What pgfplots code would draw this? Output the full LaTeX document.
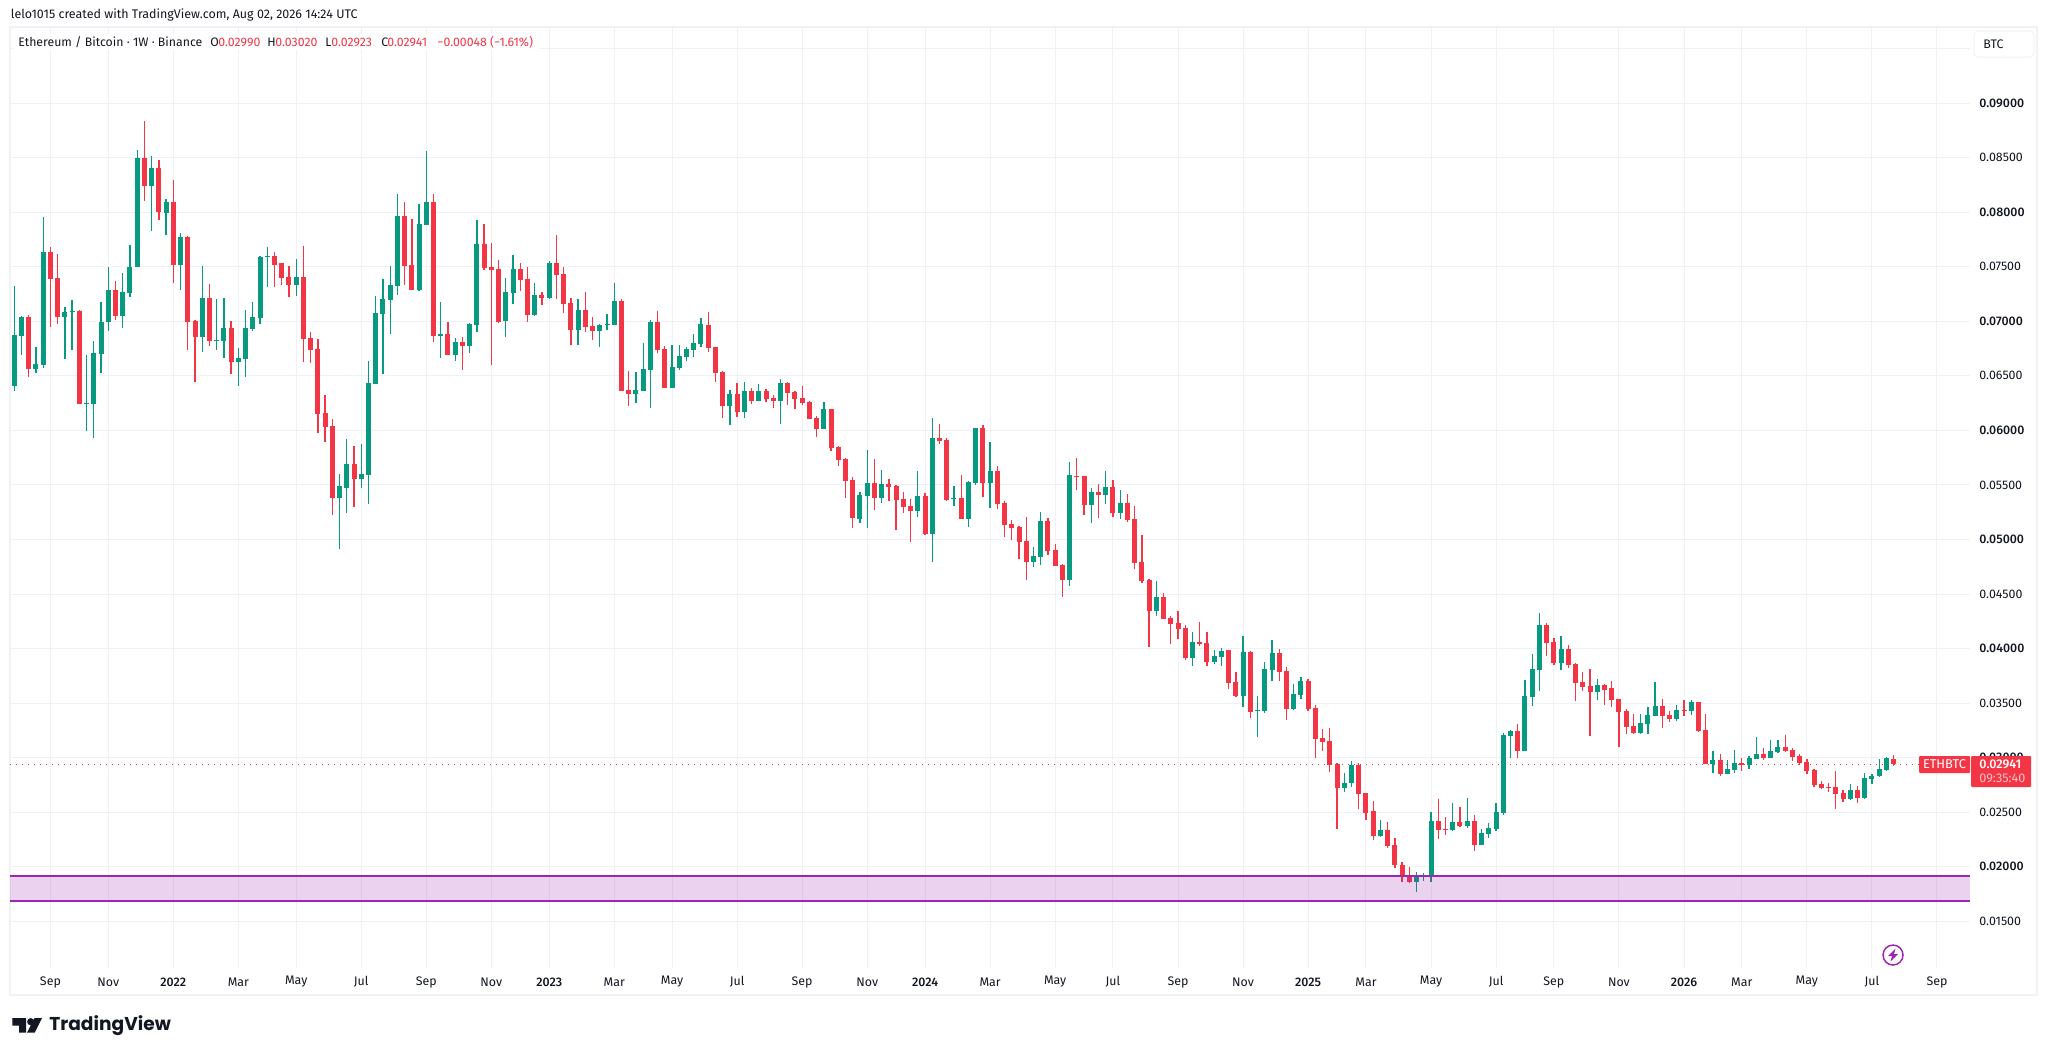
\documentclass[border=0pt]{standalone}
\usepackage{fontspec}
\usepackage{pgfplots}
\usepackage{pgfplotstable}
\pgfplotsset{compat=1.18}
\setmainfont[BoldFont={Fira Sans Medium}]{Fira Sans}
\newfontfamily\logofont{Poppins}
\definecolor{tvgreen}{HTML}{089981}
\definecolor{tvred}{HTML}{F23645}
\definecolor{tvpurple}{HTML}{9C27B0}
\definecolor{tvgrid}{HTML}{F0F1F4}
\definecolor{tvframe}{HTML}{F0F2F6}
\definecolor{tvtext}{HTML}{131722}
\pgfplotstableread{
x o h l c
0 0.06405 0.07327 0.06359 0.06874
1 0.06864 0.07048 0.06690 0.07038
2 0.07038 0.07058 0.06487 0.06562
3 0.06562 0.06762 0.06526 0.06608
4 0.06598 0.07957 0.06572 0.07635
5 0.07635 0.07681 0.06946 0.07389
6 0.07399 0.07619 0.06976 0.07038
7 0.07038 0.07130 0.06654 0.07081
8 0.07084 0.07196 0.06736 0.07094
9 0.07094 0.07104 0.06241 0.06241
10 0.06241 0.06690 0.05991 0.06251
11 0.06241 0.06818 0.05929 0.06710
12 0.06700 0.07176 0.06526 0.06992
13 0.06989 0.07497 0.06910 0.07287
14 0.07287 0.07369 0.07015 0.07048
15 0.07048 0.07442 0.06940 0.07268
16 0.07261 0.07701 0.07222 0.07497
17 0.07494 0.08574 0.07494 0.08501
18 0.08501 0.08839 0.08104 0.08242
19 0.08242 0.08518 0.07829 0.08409
20 0.08409 0.08482 0.07930 0.07999
21 0.07996 0.08121 0.07793 0.08094
22 0.08094 0.08298 0.07353 0.07517
23 0.07517 0.07812 0.07287 0.07773
24 0.07773 0.07780 0.06736 0.06992
25 0.07002 0.07012 0.06441 0.06854
26 0.06854 0.07507 0.06716 0.07215
27 0.07215 0.07343 0.06776 0.06818
28 0.06818 0.07205 0.06736 0.06828
29 0.06818 0.07215 0.06664 0.06940
30 0.06940 0.07002 0.06516 0.06625
31 0.06625 0.06756 0.06405 0.06661
32 0.06654 0.07104 0.06487 0.06940
33 0.06930 0.07176 0.06910 0.07038
34 0.07031 0.07599 0.06976 0.07589
35 0.07589 0.07681 0.07314 0.07599
36 0.07599 0.07635 0.07314 0.07517
37 0.07537 0.07537 0.07333 0.07399
38 0.07405 0.07507 0.07222 0.07333
39 0.07333 0.07573 0.07232 0.07405
40 0.07405 0.07691 0.06625 0.06838
41 0.06848 0.06900 0.06618 0.06736
42 0.06746 0.06835 0.05975 0.06149
43 0.06159 0.06323 0.05890 0.06027
44 0.06037 0.06103 0.05227 0.05384
45 0.05384 0.05598 0.04912 0.05486
46 0.05476 0.05919 0.05247 0.05690
47 0.05690 0.05854 0.05302 0.05552
48 0.05552 0.05873 0.05476 0.05598
49 0.05588 0.06634 0.05322 0.06434
50 0.06424 0.07232 0.06424 0.07077
51 0.07068 0.07389 0.06516 0.07205
52 0.07196 0.07507 0.06884 0.07333
53 0.07323 0.08167 0.07241 0.07967
54 0.07967 0.08094 0.07333 0.07507
55 0.07517 0.07940 0.07287 0.07287
56 0.07287 0.08078 0.07278 0.07894
57 0.07885 0.08564 0.07885 0.08094
58 0.08094 0.08167 0.06808 0.06864
59 0.06864 0.07176 0.06664 0.06884
60 0.06884 0.06992 0.06690 0.06690
61 0.06690 0.06848 0.06634 0.06808
62 0.06808 0.06854 0.06552 0.06772
63 0.06772 0.06985 0.06710 0.06976
64 0.06966 0.07930 0.06900 0.07711
65 0.07711 0.07894 0.07471 0.07491
66 0.07497 0.07720 0.06598 0.07471
67 0.07481 0.07563 0.06985 0.06992
68 0.07002 0.07399 0.06854 0.07268
69 0.07261 0.07609 0.07159 0.07481
70 0.07481 0.07537 0.07278 0.07379
71 0.07389 0.07497 0.06992 0.07058
72 0.07058 0.07353 0.07048 0.07241
73 0.07241 0.07268 0.07150 0.07215
74 0.07215 0.07553 0.07205 0.07537
75 0.07536 0.07792 0.07206 0.07426
76 0.07435 0.07499 0.07078 0.07160
77 0.07169 0.07215 0.06785 0.06922
78 0.06922 0.07206 0.06785 0.07105
79 0.07105 0.07270 0.06904 0.06949
80 0.06959 0.07041 0.06830 0.06913
81 0.06913 0.06977 0.06766 0.06968
82 0.06968 0.07069 0.06922 0.06977
83 0.06968 0.07353 0.06968 0.07188
84 0.07188 0.07206 0.06363 0.06363
85 0.06372 0.06546 0.06226 0.06336
86 0.06336 0.06537 0.06253 0.06372
87 0.06363 0.06803 0.06363 0.06565
88 0.06555 0.07014 0.06207 0.06995
89 0.06995 0.07096 0.06711 0.06739
90 0.06748 0.06775 0.06390 0.06390
91 0.06390 0.06785 0.06390 0.06583
92 0.06574 0.06785 0.06555 0.06684
93 0.06675 0.06766 0.06638 0.06748
94 0.06739 0.06885 0.06675 0.06803
95 0.06794 0.07032 0.06766 0.06977
96 0.06968 0.07087 0.06720 0.06757
97 0.06766 0.06766 0.06445 0.06528
98 0.06537 0.06546 0.06116 0.06226
99 0.06226 0.06372 0.06052 0.06336
100 0.06336 0.06436 0.06125 0.06171
101 0.06171 0.06445 0.06116 0.06363
102 0.06363 0.06390 0.06244 0.06271
103 0.06271 0.06427 0.06271 0.06363
104 0.06363 0.06381 0.06262 0.06290
105 0.06299 0.06326 0.06207 0.06271
106 0.06271 0.06473 0.06061 0.06436
107 0.06436 0.06445 0.06235 0.06345
108 0.06354 0.06363 0.06198 0.06290
109 0.06299 0.06409 0.06235 0.06253
110 0.06262 0.06271 0.06107 0.06107
111 0.06116 0.06134 0.05942 0.06015
112 0.06015 0.06262 0.06015 0.06198
113 0.06198 0.06198 0.05813 0.05841
114 0.05850 0.05859 0.05676 0.05731
115 0.05740 0.05749 0.05383 0.05538
116 0.05548 0.05575 0.05108 0.05199
117 0.05190 0.05438 0.05154 0.05410
118 0.05401 0.05822 0.05108 0.05520
119 0.05520 0.05740 0.05273 0.05383
120 0.05383 0.05639 0.05337 0.05511
121 0.05511 0.05557 0.05355 0.05484
122 0.05493 0.05502 0.05090 0.05364
123 0.05374 0.05438 0.05245 0.05300
124 0.05309 0.05374 0.04980 0.05264
125 0.05264 0.05630 0.05209 0.05401
126 0.05401 0.05429 0.05044 0.05053
127 0.05053 0.06116 0.04796 0.05932
128 0.05932 0.06061 0.05877 0.05905
129 0.05914 0.05932 0.05355 0.05364
130 0.05374 0.05493 0.05309 0.05383
131 0.05383 0.05593 0.05190 0.05190
132 0.05190 0.05538 0.05117 0.05529
133 0.05520 0.06024 0.05502 0.06024
134 0.06024 0.06052 0.05392 0.05520
135 0.05520 0.05896 0.05291 0.05630
136 0.05630 0.05676 0.05282 0.05328
137 0.05337 0.05355 0.05025 0.05135
138 0.05145 0.05181 0.04998 0.05108
139 0.05117 0.05126 0.04824 0.04980
140 0.04989 0.05209 0.04631 0.04796
141 0.04796 0.04934 0.04751 0.04851
142 0.04842 0.05254 0.04769 0.05172
143 0.05172 0.05199 0.04860 0.04897
144 0.04906 0.04961 0.04760 0.04760
145 0.04769 0.04778 0.04476 0.04631
146 0.04631 0.05713 0.04576 0.05593
147 0.05584 0.05749 0.05456 0.05575
148 0.05580 0.05580 0.05223 0.05315
149 0.05315 0.05470 0.05151 0.05435
150 0.05435 0.05508 0.05195 0.05406
151 0.05406 0.05627 0.05324 0.05479
152 0.05479 0.05545 0.05204 0.05242
153 0.05242 0.05454 0.05186 0.05334
154 0.05334 0.05416 0.05160 0.05179
155 0.05186 0.05305 0.04728 0.04785
156 0.04794 0.05040 0.04601 0.04617
157 0.04627 0.04636 0.04014 0.04343
158 0.04343 0.04617 0.04298 0.04472
159 0.04472 0.04510 0.04270 0.04270
160 0.04279 0.04298 0.04039 0.04226
161 0.04232 0.04343 0.04087 0.04178
162 0.04188 0.04216 0.03894 0.03913
163 0.03913 0.04150 0.03841 0.04058
164 0.04058 0.04242 0.04024 0.04046
165 0.04049 0.04150 0.03841 0.03875
166 0.03875 0.03986 0.03856 0.03932
167 0.03923 0.04005 0.03841 0.03976
168 0.03986 0.03986 0.03629 0.03683
169 0.03692 0.03784 0.03556 0.03566
170 0.03566 0.04115 0.03465 0.03967
171 0.03967 0.03976 0.03364 0.03418
172 0.03427 0.03566 0.03187 0.03437
173 0.03427 0.03875 0.03408 0.03812
174 0.03803 0.04077 0.03702 0.03957
175 0.03957 0.03995 0.03702 0.03784
176 0.03793 0.03831 0.03345 0.03446
177 0.03446 0.03673 0.03437 0.03582
178 0.03572 0.03740 0.03538 0.03702
179 0.03702 0.03721 0.03427 0.03446
180 0.03455 0.03481 0.02995 0.03171
181 0.03181 0.03263 0.03061 0.03143
182 0.03152 0.03272 0.02868 0.02931
183 0.02941 0.02950 0.02344 0.02720
184 0.02720 0.02859 0.02685 0.02767
185 0.02767 0.02969 0.02729 0.02931
186 0.02931 0.02950 0.02527 0.02666
187 0.02676 0.02676 0.02426 0.02493
188 0.02512 0.02603 0.02243 0.02281
189 0.02281 0.02426 0.02272 0.02335
190 0.02335 0.02411 0.02171 0.02190
191 0.02199 0.02262 0.01987 0.02016
192 0.02016 0.02041 0.01858 0.01905
193 0.01915 0.01997 0.01852 0.01858
194 0.01858 0.01950 0.01766 0.01915
195 0.01905 0.01943 0.01868 0.01915
196 0.01915 0.02502 0.01858 0.02420
197 0.02420 0.02619 0.02253 0.02335
198 0.02344 0.02455 0.02291 0.02335
199 0.02335 0.02584 0.02325 0.02411
200 0.02411 0.02546 0.02363 0.02373
201 0.02373 0.02628 0.02354 0.02420
202 0.02420 0.02474 0.02142 0.02199
203 0.02199 0.02344 0.02199 0.02306
204 0.02300 0.02401 0.02262 0.02354
205 0.02344 0.02584 0.02325 0.02502
206 0.02493 0.03225 0.02474 0.03206
207 0.03197 0.03253 0.02995 0.03244
208 0.03244 0.03307 0.02995 0.03061
209 0.03061 0.03711 0.03061 0.03566
210 0.03556 0.03948 0.03474 0.03812
211 0.03801 0.04324 0.03609 0.04214
212 0.04214 0.04232 0.03930 0.04049
213 0.04058 0.04095 0.03847 0.03865
214 0.03865 0.04113 0.03801 0.03994
215 0.03994 0.04031 0.03820 0.03847
216 0.03856 0.03865 0.03517 0.03682
217 0.03691 0.03783 0.03609 0.03645
218 0.03654 0.03810 0.03196 0.03599
219 0.03599 0.03719 0.03526 0.03664
220 0.03664 0.03673 0.03480 0.03618
221 0.03636 0.03700 0.03462 0.03526
222 0.03535 0.03535 0.03095 0.03416
223 0.03425 0.03443 0.03214 0.03278
224 0.03288 0.03398 0.03214 0.03223
225 0.03223 0.03398 0.03214 0.03315
226 0.03306 0.03462 0.03214 0.03388
227 0.03379 0.03691 0.03379 0.03471
228 0.03471 0.03535 0.03269 0.03379
229 0.03388 0.03425 0.03324 0.03352
230 0.03352 0.03480 0.03333 0.03434
231 0.03434 0.03526 0.03379 0.03425
232 0.03425 0.03526 0.03388 0.03508
233 0.03508 0.03508 0.03232 0.03242
234 0.03251 0.03398 0.02939 0.02939
235 0.02939 0.03058 0.02856 0.02976
236 0.02976 0.03031 0.02829 0.02847
237 0.02847 0.02976 0.02847 0.02893
238 0.02884 0.03067 0.02856 0.02948
239 0.02948 0.02994 0.02875 0.02936
240 0.02930 0.03012 0.02893 0.02994
241 0.02985 0.03187 0.02985 0.03031
242 0.03031 0.03086 0.02976 0.02994
243 0.02994 0.03159 0.02994 0.03058
244 0.03049 0.03159 0.03040 0.03095
245 0.03095 0.03205 0.03049 0.03058
246 0.03067 0.03086 0.02966 0.03003
247 0.03012 0.03031 0.02930 0.02948
248 0.02957 0.02985 0.02847 0.02875
249 0.02884 0.02893 0.02728 0.02746
250 0.02755 0.02783 0.02710 0.02719
251 0.02728 0.02765 0.02682 0.02719
252 0.02728 0.02875 0.02526 0.02664
253 0.02673 0.02700 0.02590 0.02618
254 0.02618 0.02755 0.02609 0.02700
255 0.02700 0.02737 0.02581 0.02627
256 0.02627 0.02856 0.02618 0.02810
257 0.02801 0.02847 0.02755 0.02829
258 0.02829 0.02985 0.02820 0.02893
259 0.02884 0.03003 0.02875 0.02994
260 0.02990 0.03020 0.02923 0.02941
}\candles
\begin{document}
\begin{tikzpicture}[x=0.5pt,y=-0.5pt,every node/.style={inner sep=0pt,text=tvtext}]
\useasboundingbox (0,0) rectangle (2048,1056);
\fill[white] (0,0) rectangle (2048,1056);
\draw[tvframe,line width=1pt] (10,27) rectangle (2037,995);
\begin{axis}[
  at={(10pt*0.5,-484pt)},anchor=south west,
  scale only axis,width=980pt,height=470.5pt,
  xmin=-0.595,xmax=270.57,ymin=0.01072,ymax=0.09697,
  axis line style={draw=none},
  major tick length=0pt,
  clip=true,
  grid=major,
  grid style={tvgrid,line width=0.5pt},
  xtick={5,13,22,31,39,48,57,66,74,83,91,100,109,118,126,135,144,152,161,170,179,187,196,205,213,222,231,239,248,257,266},
  xticklabels={Sep,Nov,\textbf{2022},Mar,May,Jul,Sep,Nov,\textbf{2023},Mar,May,Jul,Sep,Nov,\textbf{2024},Mar,May,Jul,Sep,Nov,\textbf{2025},Mar,May,Jul,Sep,Nov,\textbf{2026},Mar,May,Jul,Sep},
  ytick={0.015,0.02,0.025,0.03,0.035,0.04,0.045,0.05,0.055,0.06,0.065,0.07,0.075,0.08,0.085,0.09,0.095},
  yticklabels={0.01500,\textbf{0.02000},0.02500,\textbf{0.03000},0.03500,\textbf{0.04000},0.04500,\textbf{0.05000},0.05500,\textbf{0.06000},0.06500,\textbf{0.07000},0.07500,\textbf{0.08000},0.08500,\textbf{0.09000},{}},
  yticklabel pos=right,
  scaled y ticks=false,
  tick label style={font=\fontsize{6.2}{7}\selectfont,text=tvtext,inner sep=0pt},
  xticklabel style={anchor=center,yshift=-7pt},
  yticklabel style={anchor=west,xshift=4.5pt},
]
% dotted last-price line
\addplot[tvred,line width=0.5pt,dash pattern=on 0.6pt off 2.4pt,forget plot] coordinates {(-0.595,0.02941)(270.57,0.02941)};
% wicks, up candles
\addplot[draw=none,no markers,forget plot,restrict expr to domain={\thisrow{c}-\thisrow{o}}{0:1},
  error bars/.cd,y dir=both,y explicit,error mark=none,error bar style={draw=tvgreen,line width=0.65pt}]
  table[x=x,y=o,y error plus expr=\thisrow{h}-\thisrow{o},y error minus expr=\thisrow{o}-\thisrow{l}] {\candles};
\addplot[draw=none,no markers,forget plot,restrict expr to domain={\thisrow{c}-\thisrow{o}}{0:1},
  error bars/.cd,y dir=both,y explicit,error mark=none,error bar style={draw=tvgreen,line width=2.5pt}]
  table[x=x,y=o,y error plus expr=\thisrow{c}-\thisrow{o},y error minus expr=0] {\candles};
% down candles
\addplot[draw=none,no markers,forget plot,restrict expr to domain={\thisrow{c}-\thisrow{o}}{-1:-0.0000001},
  error bars/.cd,y dir=both,y explicit,error mark=none,error bar style={draw=tvred,line width=0.65pt}]
  table[x=x,y=o,y error plus expr=\thisrow{h}-\thisrow{o},y error minus expr=\thisrow{o}-\thisrow{l}] {\candles};
\addplot[draw=none,no markers,forget plot,restrict expr to domain={\thisrow{c}-\thisrow{o}}{-1:-0.0000001},
  error bars/.cd,y dir=both,y explicit,error mark=none,error bar style={draw=tvred,line width=2.5pt}]
  table[x=x,y=o,y error plus expr=0,y error minus expr=\thisrow{o}-\thisrow{c}] {\candles};
% support band
\addplot[draw=none,fill=tvpurple,fill opacity=0.2,forget plot] coordinates {(-0.595,0.01686)(270.57,0.01686)(270.57,0.01918)(-0.595,0.01918)} -- cycle;
\addplot[tvpurple,line width=1pt,forget plot] coordinates {(-0.595,0.01918)(270.57,0.01918)};
\addplot[tvpurple,line width=1pt,forget plot] coordinates {(-0.595,0.01686)(270.57,0.01686)};
\end{axis}
% header
\node[anchor=west,font=\fontsize{6.24}{7}\selectfont] at (10.5,14.5) {lelo1015 created with TradingView.com, Aug 02, 2026 14:24 UTC};
\fill[white] (14,34) rectangle (540,50);
\begin{scope}[every node/.append style={anchor=west,font=\fontsize{6.15}{7}\selectfont}]
\node at (18,42) {Ethereum / Bitcoin · 1W · Binance};
\node at (210,42) {O}; \node[text=tvred] at (218,42) {0.02990};
\node at (267,42) {H}; \node[text=tvred] at (275,42) {0.03020};
\node at (325,42) {L}; \node[text=tvred] at (331,42) {0.02923};
\node at (381,42) {C}; \node[text=tvred] at (387,42) {0.02941};
\node[text=tvred] at (437,42) {−0.00048 (−1.61\%)};
\end{scope}
% BTC button
\draw[tvframe,fill=white,line width=0.5pt,rounded corners=2pt] (1974,31) rectangle (2034,57);
\node[anchor=west,font=\fontsize{6.2}{7}\selectfont] at (1983,44.5) {BTC};
% price labels
\fill[tvred,rounded corners=0.5pt] (1919,756) rectangle (1970,773);
\fill[tvred,rounded corners=0.5pt] (1971,756) rectangle (2031,787);
\node[anchor=center,text=white,font=\fontsize{6.4}{7}\selectfont] at (1944.5,764.5) {ETHBTC};
\node[anchor=west,text=white,font=\fontsize{6.3}{7}\selectfont\bfseries] at (1979,764.5) {0.02941};
\node[anchor=west,text=white!70!tvred,font=\fontsize{6.3}{7}\selectfont] at (1979,778.7) {09:35:40};
% lightning icon
\draw[tvpurple,line width=0.75pt] (1893,955) circle[radius=10];
\fill[tvpurple] (1895.5,948.5) -- (1888,956) -- (1892,956) -- (1890.5,961.5) -- (1898,954) -- (1894,954) -- cycle;
% TradingView logo
\fill[tvtext] (12.3,1018) -- (26,1018) -- (26,1032.7) -- (19,1032.7) -- (19,1025.7) -- (12.3,1025.7) -- cycle;
\fill[tvtext] (30.7,1021.7) circle[radius=3.6];
\fill[tvtext] (34.5,1018) -- (42,1018) -- (34.7,1032.7) -- (27,1032.7) -- cycle;
\node[anchor=west,font=\logofont\fontsize{9.3}{11}\selectfont\bfseries] at (49,1026) {TradingView};
\end{tikzpicture}
\end{document}
